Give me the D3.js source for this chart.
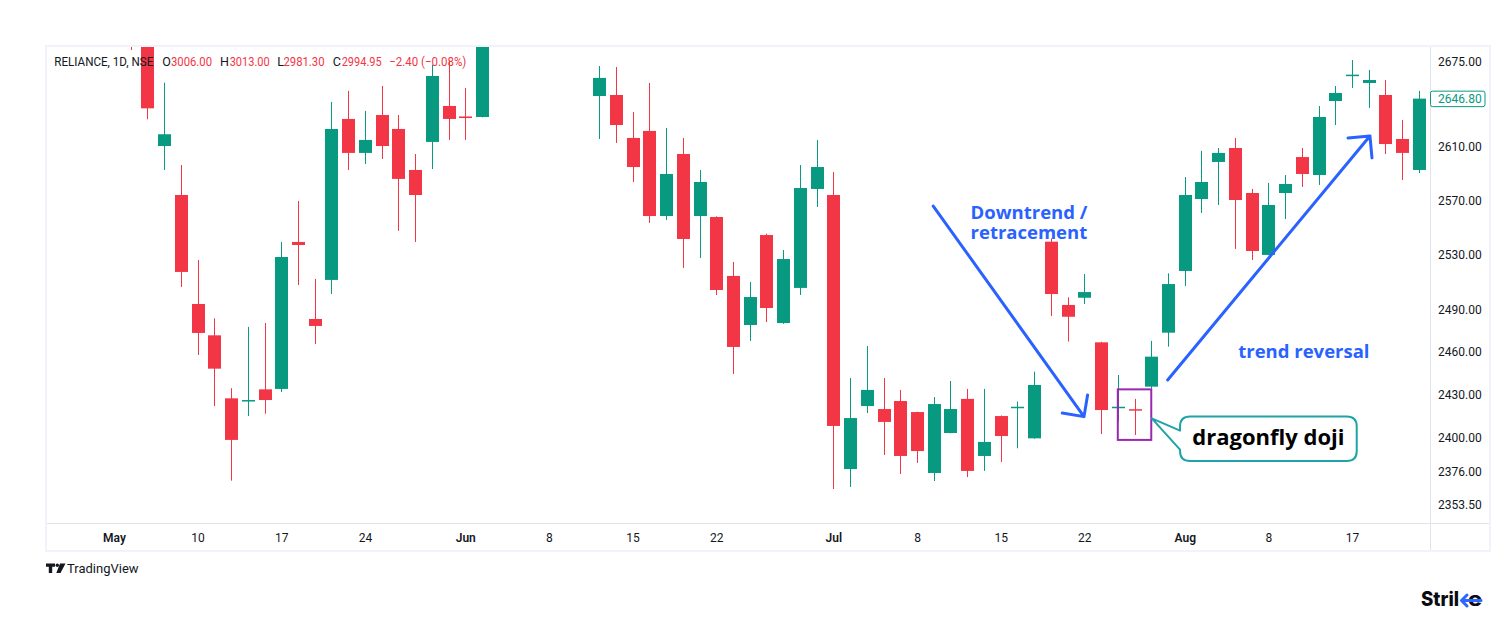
<!DOCTYPE html>
<html><head><meta charset="utf-8">
<script src="https://cdn.jsdelivr.net/npm/d3@7"></script>
<style>html,body{margin:0;padding:0;background:#fff;} svg{display:block;font-family:Roboto,"Liberation Sans",sans-serif;}</style>
</head><body><svg id="chart" width="1500" height="620"></svg>
<script>
// ---------- DATA ----------
const tradingDays = [
 "2022-05-02","2022-05-04","2022-05-05","2022-05-06","2022-05-09","2022-05-10","2022-05-11","2022-05-12","2022-05-13","2022-05-16","2022-05-17","2022-05-18","2022-05-19","2022-05-20","2022-05-23","2022-05-24","2022-05-25","2022-05-26","2022-05-27","2022-05-30","2022-05-31",
 "2022-06-01","2022-06-02","2022-06-03","2022-06-06","2022-06-07","2022-06-08","2022-06-09","2022-06-10","2022-06-13","2022-06-14","2022-06-15","2022-06-16","2022-06-17","2022-06-20","2022-06-21","2022-06-22","2022-06-23","2022-06-24","2022-06-27","2022-06-28","2022-06-29","2022-06-30",
 "2022-07-01","2022-07-04","2022-07-05","2022-07-06","2022-07-07","2022-07-08","2022-07-11","2022-07-12","2022-07-13","2022-07-14","2022-07-15","2022-07-18","2022-07-19","2022-07-20","2022-07-21","2022-07-22","2022-07-25","2022-07-26","2022-07-27","2022-07-28","2022-07-29",
 "2022-08-01","2022-08-02","2022-08-03","2022-08-04","2022-08-05","2022-08-08","2022-08-10","2022-08-11","2022-08-12","2022-08-16","2022-08-17","2022-08-18","2022-08-19","2022-08-22","2022-08-23"
];
const candleDates = [
 "2022-05-04","2022-05-05","2022-05-06","2022-05-09","2022-05-10","2022-05-11","2022-05-12","2022-05-13","2022-05-16","2022-05-17","2022-05-18","2022-05-19","2022-05-20","2022-05-23","2022-05-24","2022-05-25","2022-05-26","2022-05-27","2022-05-30","2022-05-31","2022-06-01","2022-06-02",
 "2022-06-13","2022-06-14","2022-06-15","2022-06-16","2022-06-17","2022-06-20","2022-06-21","2022-06-22","2022-06-23","2022-06-24","2022-06-27","2022-06-28","2022-06-29","2022-06-30",
 "2022-07-01","2022-07-04","2022-07-05","2022-07-06","2022-07-07","2022-07-08","2022-07-11","2022-07-12","2022-07-13","2022-07-14","2022-07-15","2022-07-18","2022-07-19","2022-07-20","2022-07-21","2022-07-22","2022-07-25","2022-07-26","2022-07-27","2022-07-28","2022-07-29",
 "2022-08-01","2022-08-02","2022-08-03","2022-08-04","2022-08-05","2022-08-08","2022-08-10","2022-08-11","2022-08-12","2022-08-16","2022-08-17","2022-08-18","2022-08-19","2022-08-22","2022-08-23"
];
const openPrices = [
 2740,2705,2610.8,2574.1,2494.3,2471.8,2427.2,2425.5,2433.5,2433.8,2539.4,2483.5,2511.7,2631.3,2605.6,2634.3,2623.7,2592.8,2613.9,2641.2,2633.2,2632.8,
 2648.8,2649.6,2616.9,2622.2,2558.5,2604.8,2558.5,2557.8,2514.6,2479.2,2544.5,2480.6,2505.9,2578.6,
 2574.1,2378.1,2421.8,2419.7,2425.3,2417.6,2375.4,2403.0,2426.8,2387.1,2414.8,2420.3,2399.3,2539.6,2493.6,2498.8,2466.8,2420.5,2419.6,2435.4,2473.7,
 2518.2,2571.1,2598.8,2609.3,2575.6,2529.9,2575.6,2602.5,2589.0,2645.0,2664.8,2658.8,2649.6,2616.1,2592.8
];
const highPrices = [
 2752,2712,2659.0,2596.5,2526.2,2484.0,2434.3,2477.8,2480.6,2539.4,2569.7,2512.4,2644.3,2652.7,2637.4,2656.5,2634.3,2604.8,2672.7,2676.5,2655.0,2722,
 2671.9,2671.1,2636.6,2658.8,2624.5,2616.9,2592.8,2558.3,2524.8,2510.2,2545.5,2533.5,2596.5,2615.4,
 2591.3,2441.5,2464.2,2441.5,2433.1,2417.8,2428.1,2439.4,2433.8,2433.8,2415.2,2424.9,2446.0,2542.1,2499.1,2516.0,2467.2,2443.6,2426.8,2467.8,2516.5,
 2587.5,2607.1,2609.3,2616.9,2578.6,2583.1,2589.0,2609.3,2641.2,2656.5,2676.5,2668.8,2661.1,2630.5,2652.7
];
const lowPrices = [
 2684.3,2631.1,2592.8,2506.6,2457.8,2421.8,2370.1,2414.8,2416.4,2431.6,2508.0,2465.6,2501.5,2592.8,2597.3,2601.0,2547.5,2539.4,2593.5,2615.4,2615.4,2632.5,
 2616.1,2613.1,2583.8,2553.4,2555.6,2520.4,2527.7,2500.8,2444.3,2467.8,2481.3,2480.0,2500.8,2565.2,
 2364.4,2365.8,2416.9,2387.8,2374.7,2382.3,2369.9,2402.8,2372.6,2376.8,2383.0,2392.4,2399.1,2485.6,2467.3,2494.3,2402.3,2410.9,2401.6,2434.0,2463.7,
 2507.3,2560.8,2566.7,2534.3,2526.2,2529.7,2556.3,2580.1,2581.6,2626.7,2655.0,2639.7,2604.8,2585.3,2590.5
];
const closePrices = [
 2712,2639.4,2619.7,2517.5,2473.5,2448.1,2398.2,2426.0,2426.0,2528.4,2537.2,2478.5,2623.7,2605.6,2615.4,2610.8,2586.1,2574.1,2664.2,2631.3,2632.0,2715,
 2662.7,2626.7,2595.0,2558.5,2589.8,2541.6,2583.8,2504.4,2463.5,2499.3,2491.4,2526.9,2579.3,2595.0,
 2407.9,2413.4,2433.1,2410.7,2387.1,2390.5,2423.2,2419.7,2376.8,2396.8,2400.9,2421.3,2436.6,2501.5,2485.1,2502.9,2419.0,2421.3,2418.6,2456.6,2508.7,
 2574.1,2583.8,2605.6,2570.4,2532.8,2566.7,2582.3,2589.8,2632.8,2651.1,2665.2,2661.1,2612.3,2605.6,2646.8
];
const tickDates = ["2022-05-02","2022-05-10","2022-05-17","2022-05-24","2022-06-01","2022-06-08","2022-06-15","2022-06-22","2022-07-01","2022-07-08","2022-07-15","2022-07-22","2022-08-01","2022-08-08","2022-08-17"];
const tickLabels = ["May","10","17","24","Jun","8","15","22","Jul","8","15","22","Aug","8","17"];
const monthLabels = ["May","Jun","Jul","Aug"];
const priceTicks = [2353.5,2376,2400,2430,2460,2490,2530,2570,2610,2675];
const lastPrice = 2646.8;

// ---------- LAYOUT ----------
const GREEN = "#089981", RED = "#f23645", BLUE = "#2962ff";
const svg = d3.select("#chart");
const paneL = 47, paneR = 1430, paneT = 47, paneB = 523;
const x = d3.scaleLinear().domain([-4.06, 78.66]).range([46, 1430]);
const y = d3.scaleLog().domain([2341.3, 2686.6]).range([paneB, paneT]);
const idx = d => tradingDays.indexOf(d);

svg.append("rect").attr("width",1500).attr("height",620).attr("fill","#fff");

// frame
svg.append("rect").attr("x",46).attr("y",46).attr("width",1444).attr("height",505)
  .attr("fill","none").attr("stroke","#f0f3fa").attr("stroke-width",2);
svg.append("line").attr("x1",1430.5).attr("x2",1430.5).attr("y1",47).attr("y2",550).attr("stroke","#e0e3eb");
svg.append("line").attr("x1",47).attr("x2",1489).attr("y1",523.5).attr("y2",523.5).attr("stroke","#e0e3eb");

svg.append("clipPath").attr("id","pane").append("rect")
  .attr("x",paneL).attr("y",paneT).attr("width",paneR-paneL).attr("height",paneB-paneT);

const candles = candleDates.map((d,i)=>({d, o:openPrices[i], h:highPrices[i], l:lowPrices[i], c:closePrices[i]}));
const g = svg.append("g").attr("clip-path","url(#pane)");
const cg = g.selectAll("g.c").data(candles).join("g")
  .attr("fill", d=> d.c>=d.o ? GREEN : RED).attr("stroke", d=> d.c>=d.o ? GREEN : RED);
cg.append("line")
  .attr("x1", d=>Math.round(x(idx(d.d)))+0.5).attr("x2", d=>Math.round(x(idx(d.d)))+0.5)
  .attr("y1", d=>y(d.h)).attr("y2", d=>y(d.l)).attr("stroke-width",1);
cg.append("rect")
  .attr("x", d=>Math.round(x(idx(d.d)))-6).attr("width",13)
  .attr("y", d=>y(Math.max(d.o,d.c)))
  .attr("height", d=>Math.max(1.5, Math.abs(y(d.o)-y(d.c))))
  .attr("stroke","none");

// price axis
const yAxis = svg.append("g").attr("transform","translate(1430,0)")
  .call(d3.axisRight(y).tickValues(priceTicks).tickFormat(d3.format(".2f")).tickSize(0).tickPadding(8));
yAxis.select(".domain").remove();
yAxis.selectAll("text").attr("font-size",12).attr("fill","#131722").attr("font-family","Roboto,sans-serif");

// last price tag
const ly = y(lastPrice);
svg.append("rect").attr("x",1430.5).attr("y",ly-7.5).attr("width",54.5).attr("height",15.5)
  .attr("fill","#fff").attr("stroke",GREEN).attr("stroke-width",1).attr("rx",2);
svg.append("text").attr("x",1438).attr("y",ly).attr("dy","0.35em").attr("font-size",12)
  .attr("fill",GREEN).text(d3.format(".2f")(lastPrice));

// time axis
const xAxis = svg.append("g").attr("transform",`translate(0,${paneB})`)
  .call(d3.axisBottom(x).tickValues(tickDates.map(idx)).tickFormat((d,i)=>tickLabels[i]).tickSize(0).tickPadding(10));
xAxis.select(".domain").remove();
xAxis.selectAll("text").attr("font-size",12).attr("fill","#131722").attr("font-family","Roboto,sans-serif")
  .attr("font-weight", function(){ return monthLabels.includes(this.textContent) ? 600 : 400; });

// header
const hparts = [
 [54.3,"RELIANCE, 1D, NSE","#131722",99],[162.3,"O","#131722",0],[171,"3006.00",RED,41],
 [220,"H","#131722",0],[229.7,"3013.00",RED,40],[277.3,"L","#131722",0],[283.5,"2981.30",RED,41],
 [332.7,"C","#131722",0],[341.7,"2994.95",RED,40],[389.3,"\u22122.40 (\u22120.08%)",RED,77]
];
hparts.forEach(p=>{
  const t = svg.append("text").attr("x",p[0]).attr("y",66).attr("font-size",12.5).attr("fill",p[2]).text(p[1]);
  if(p[3]) t.attr("textLength",p[3]).attr("lengthAdjust","spacingAndGlyphs");
});

// ---------- ANNOTATIONS (data coordinates: index, price) ----------
function arrow(from, to){
  const x1=x(from[0]), y1=y(from[1]), x2=x(to[0]), y2=y(to[1]);
  const a = Math.atan2(y1-y2, x1-x2), L=22, s=Math.PI/4;
  const p = `M${x1},${y1}L${x2},${y2}M${x2+L*Math.cos(a-s)},${y2+L*Math.sin(a-s)}L${x2},${y2}L${x2+L*Math.cos(a+s)},${y2+L*Math.sin(a+s)}`;
  svg.append("path").attr("d",p).attr("fill","none").attr("stroke",BLUE).attr("stroke-width",3).attr("stroke-linecap","round").attr("stroke-linejoin","round");
}
arrow([48.97,2565.9],[57.98,2414.4]);
arrow([62.98,2440.1],[75.07,2618.4]);

const t1 = svg.append("text").attr("x",x(51.2)).attr("y",y(2556.1)).attr("font-family","'Open Sans',sans-serif")
  .attr("font-weight",700).attr("font-size",18.5).attr("fill",BLUE);
t1.append("tspan").text("Downtrend /");
t1.append("tspan").attr("x",x(51.2)).attr("dy",20).text("retracement");
svg.append("text").attr("x",x(67.2)).attr("y",y(2455.4)).attr("font-family","'Open Sans',sans-serif")
  .attr("font-weight",700).attr("font-size",18.5).attr("fill",BLUE).text("trend reversal");

// doji highlight box
svg.append("rect").attr("x",x(60)).attr("y",y(2433.5)).attr("width",x(62)-x(60)).attr("height",y(2398.2)-y(2433.5))
  .attr("fill","none").attr("stroke","#9c27b0").attr("stroke-width",2);

// callout
{
  const L=x(63.72), R=x(74.28), T=y(2414.4), B=y(2383.6), r=10;
  const tx=x(62.03), ty=y(2413.2);
  const d=`M${L+r},${T}H${R-r}Q${R},${T} ${R},${T+r}V${B-r}Q${R},${B} ${R-r},${B}H${L+r}Q${L},${B} ${L},${B-r}V${T+33}L${tx},${ty}L${L},${T+14}V${T+r}Q${L},${T} ${L+r},${T}Z`;
  svg.append("path").attr("d",d).attr("fill","#fff").attr("stroke","#1fa3a8").attr("stroke-width",2).attr("stroke-linejoin","round");
  svg.append("text").attr("x",(L+R)/2).attr("y",T+28.5).attr("text-anchor","middle")
    .attr("font-family","'Open Sans',sans-serif").attr("font-weight",700).attr("font-size",22).attr("fill","#000").text("dragonfly doji");
}

// footer logos
svg.append("path").attr("d","M46 563.5h9v3.2h-2.8v6.3h-3.4v-6.3h-2.8z M60 563.5h5.5l-5 9.5h-4.2z").attr("fill","#131722");
svg.append("circle").attr("cx",57.3).attr("cy",565.2).attr("r",1.7).attr("fill","#131722");
svg.append("text").attr("x",67).attr("y",573).attr("font-size",13).attr("fill","#131722").text("TradingView");
const strike = svg.append("text").attr("y",606).attr("font-family","Inter,Roboto,sans-serif").attr("font-weight",800)
  .attr("font-size",20).attr("fill","#0b0b12");
strike.append("tspan").attr("x",1421).attr("textLength",38).attr("lengthAdjust","spacingAndGlyphs").text("Stril");
strike.append("tspan").attr("x",1468).attr("textLength",14).attr("lengthAdjust","spacingAndGlyphs").text("e");
svg.append("path").attr("d","M1481 600.5H1461.5 M1467 595L1461.5 600.5L1467 606").attr("fill","none").attr("stroke","#2f66ff").attr("stroke-width",3).attr("stroke-linecap","round").attr("stroke-linejoin","round");
</script>
</body></html>
